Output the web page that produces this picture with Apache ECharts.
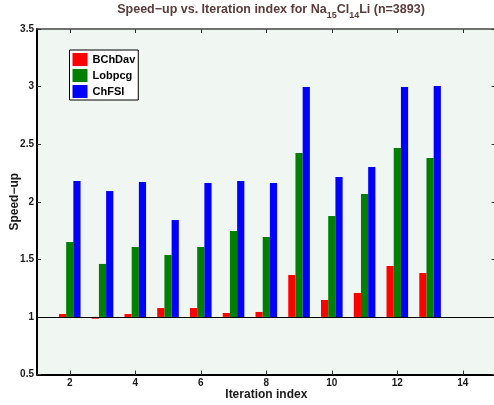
<!DOCTYPE html>
<html><head><meta charset="utf-8">
<script src="https://cdn.jsdelivr.net/npm/echarts@6/dist/echarts.min.js"></script>
<style>html,body{margin:0;padding:0;background:#fff}#c{width:494px;height:405px}</style>
</head><body><div id="c"></div>
<script>
const iterations = [2,3,4,5,6,7,8,9,10,11,12,13];
const bchdav = [1.025,0.985,1.025,1.077,1.077,1.034,1.043,1.364,1.147,1.208,1.442,1.381];
const lobpcg = [1.650,1.460,1.607,1.538,1.607,1.746,1.694,2.423,1.876,2.067,2.467,2.380];
const chfsi  = [2.180,2.093,2.171,1.841,2.163,2.180,2.163,2.996,2.215,2.302,2.996,3.005];
const xTickValues = [2,4,6,8,10,12,14];
const seriesNames = ['BChDav','Lobpcg','ChFSI'];
const seriesColors = ['#ff0000','#007f00','#0000ff'];
const baseline = 1;

const FONT = 'Liberation Sans';
const toData = arr => iterations.map((x,i)=>[x, +(arr[i]-baseline).toFixed(4)]);
const valuesList = [bchdav, lobpcg, chfsi];

const chart = echarts.init(document.getElementById('c'), null, {renderer:'canvas'});
const tickStyle = {show:true, inside:true, length:4, lineStyle:{color:'#333', width:1}};
const series = seriesNames.map((name,k)=>({
  name, type:'bar', xAxisIndex:0, yAxisIndex:0,
  data: toData(valuesList[k]),
  barWidth: 7.2, barGap: '0%',
  itemStyle:{color: seriesColors[k]},
  emphasis:{disabled:true},
  animation:false
}));
series[2].markLine = {
  silent:true, symbol:['none','none'], animation:false,
  label:{show:false},
  lineStyle:{color:'#000', width:1.2, type:'solid'},
  data:[{yAxis:0}]
};

chart.setOption({
  animation:false,
  backgroundColor:'#ffffff',
  title:{
    left:266, textAlign:'center', top:-2,
    text:'{a|Speed−up vs. Iteration index for Na}{s|15}{a|Cl}{s|14}{a|Li (n=3893)}',
    textStyle:{
      rich:{
        a:{fontFamily:FONT, fontWeight:'bold', fontSize:12.5, color:'#5b3b3b', lineHeight:14},
        s:{fontFamily:FONT, fontWeight:'bold', fontSize:9, color:'#5b3b3b', lineHeight:10, padding:[12,0,0,0]}
      }
    }
  },
  legend:{
    data:seriesNames, orient:'vertical', left:69.5, top:50,
    itemWidth:15, itemHeight:13, itemGap:3, icon:'rect',
    padding:[3,3,2,3],
    backgroundColor:'#ffffff', borderColor:'#000', borderWidth:1,
    textStyle:{fontFamily:FONT, fontWeight:'bold', fontSize:11, color:'#000'},
    selectedMode:false
  },
  grid:{
    left:37, right:-1.6, top:29, bottom:30.5,
    show:true, backgroundColor:'#f0f6f1', borderWidth:0,
    containLabel:false, outerBoundsMode:'none'
  },
  xAxis:[
    {type:'value', position:'bottom', min:1, max:15,
     axisLine:{show:true, onZero:false, lineStyle:{color:'#000', width:2}},
     axisTick:Object.assign({}, tickStyle, {customValues:xTickValues}),
     axisLabel:{customValues:xTickValues, fontFamily:FONT, fontWeight:'bold', fontSize:10, color:'#1a1a1a', margin:4},
     splitLine:{show:false},
     name:'Iteration index', nameLocation:'middle', nameGap:14, nameMoveOverlap:false,
     nameTextStyle:{fontFamily:FONT, fontWeight:'bold', fontSize:12, color:'#1a1a1a'}
    },
    {type:'value', position:'top', min:1, max:15,
     axisLine:{show:true, onZero:false, lineStyle:{color:'#444', width:1.5}},
     axisTick:Object.assign({}, tickStyle, {customValues:xTickValues}),
     axisLabel:{show:false}, splitLine:{show:false}
    }
  ],
  yAxis:[
    {type:'value', position:'left', min:-0.5, max:2.5, interval:0.5,
     axisLine:{show:true, onZero:false, lineStyle:{color:'#000', width:2}},
     axisTick:tickStyle,
     axisLabel:{fontFamily:FONT, fontWeight:'bold', fontSize:10, color:'#1a1a1a', margin:3,
       formatter:v=>String(Math.round((v+baseline)*10)/10)},
     splitLine:{show:false},
     name:'Speed−up', nameLocation:'middle', nameGap:16, nameRotate:90, nameMoveOverlap:false,
     nameTextStyle:{fontFamily:FONT, fontWeight:'bold', fontSize:12, color:'#1a1a1a'}
    },
    {type:'value', position:'right', min:-0.5, max:2.5, interval:0.5,
     axisLine:{show:true, onZero:false, lineStyle:{color:'#444', width:1.5}},
     axisTick:tickStyle, axisLabel:{show:false}, splitLine:{show:false}
    }
  ],
  series
});
</script></body></html>
